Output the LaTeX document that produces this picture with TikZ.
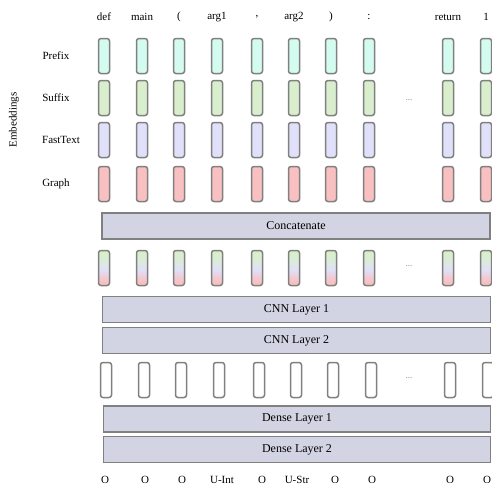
\documentclass[tikz,border=0pt]{standalone}
\usepackage{fontspec}
\setmainfont{Liberation Serif}
\definecolor{edgegray}{HTML}{808080}
\definecolor{prefixfill}{HTML}{D4FBF0}
\definecolor{suffixfill}{HTML}{D9EECD}
\definecolor{fastfill}{HTML}{E0E0FA}
\definecolor{graphfill}{HTML}{F8C0C0}
\definecolor{barfill}{HTML}{D3D4E3}
% blended column: green on top, lavender in the middle, pink at the bottom
\pgfdeclareverticalshading{mixshade}{100bp}{%
  color(0bp)=(graphfill);
  color(30bp)=(graphfill);
  color(36bp)=(graphfill!70!fastfill);
  color(48bp)=(fastfill);
  color(56bp)=(fastfill!50!suffixfill);
  color(68bp)=(suffixfill);
  color(100bp)=(suffixfill)}
\tikzset{
  cell/.style={draw=edgegray, line width=1.5pt, rounded corners=2.5pt,
    minimum width=11pt, minimum height=35pt, inner sep=0pt},
  bar/.style={draw=edgegray, line width=1.5pt, fill=barfill, minimum height=26pt,
    inner sep=0pt, font=\fontsize{12}{14}\selectfont},
  lbl/.style={font=\fontsize{11}{13}\selectfont},
  dots/.style={font=\fontsize{9}{10}\selectfont, text=gray}
}
\begin{document}
\begin{tikzpicture}[x=1pt,y=-1pt]
\useasboundingbox (0,0) rectangle (492,488);
% column positions
\def\cols{1/104,2/142,3/179,4/217,5/257,6/294,7/331,8/369,9/448,10/486}
% token labels
\foreach \i/\x/\t in {1/104/def,2/142/main,3/179/(,4/217/arg1,5/257/{,},6/294/arg2,7/331/),8/369/:,9/448/return,10/486/1}
  \node[lbl] (tok\i) at (\x,17) {\t};
% embedding rows
\node[lbl, rotate=90] (emb) at (14,120) {Embeddings};
\node[lbl] (lpre) at (56,56) {Prefix};
\node[lbl] (lsuf) at (56,98) {Suffix};
\node[lbl] (lfast) at (61,140) {FastText};
\node[lbl] (lgraph) at (56,184) {Graph};
\foreach \i/\x in \cols {
  \node[cell, fill=prefixfill] (pre\i) at (\x,56) {};
  \node[cell, fill=suffixfill] (suf\i) at (\x,98) {};
  \node[cell, fill=fastfill] (fast\i) at (\x,140) {};
  \node[cell, fill=graphfill] (gr\i) at (\x,184) {};
  \node[cell, shading=mixshade] (mix\i) at (\x,268) {};
  \node[cell, fill=white] (out\i) at (\x+2,380) {};
}
\node[dots] (d1) at (409,100) {...};
\node[dots] (d2) at (409,266) {...};
\node[dots] (d3) at (409,378) {...};
% layers
\node[bar, minimum width=388pt] (concat) at (296,226) {Concatenate};
\node[bar, minimum width=388pt] (cnn1) at (296.5,309.5) {CNN Layer 1};
\node[bar, minimum width=388pt] (cnn2) at (296.5,340.5) {CNN Layer 2};
\node[bar, minimum width=387pt] (dense1) at (297,419) {Dense Layer 1};
\node[bar, minimum width=387pt] (dense2) at (297,449.5) {Dense Layer 2};
% output tags
\foreach \i/\x/\t in {1/105/O,2/145/O,3/182/O,4/222/U-Int,5/262/O,6/297/U-Str,7/335/O,8/372/O,9/450/O,10/487/O}
  \node[lbl] (tag\i) at (\x,480) {\t};
\end{tikzpicture}
\end{document}
